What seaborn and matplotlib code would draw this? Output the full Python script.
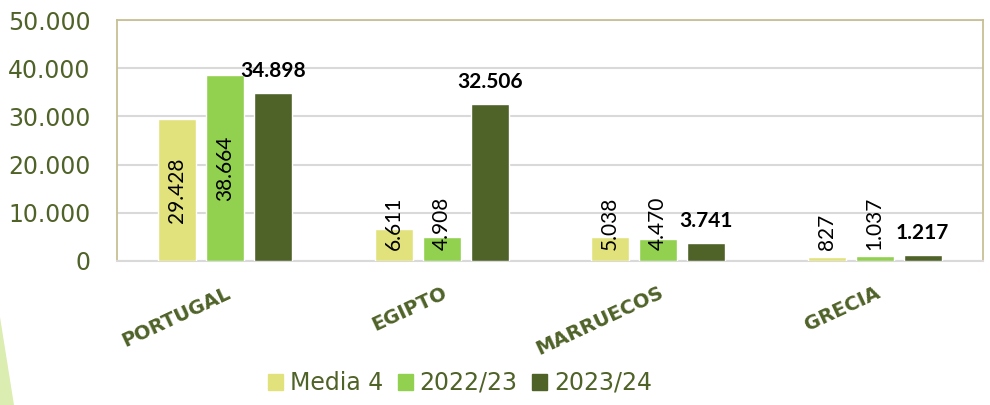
import matplotlib
matplotlib.use("Agg")
import matplotlib.pyplot as plt
import matplotlib.patches as mpatches
import seaborn as sns
import pandas as pd

# ---- data ----
countries = ["PORTUGAL", "EGIPTO", "MARRUECOS", "GRECIA"]
series_names = ["Media 4", "2022/23", "2023/24"]
media4 = [29428, 6611, 5038, 827]
y2022_23 = [38664, 4908, 4470, 1037]
y2023_24 = [34898, 32506, 3741, 1217]
yticks = [0, 10000, 20000, 30000, 40000, 50000]
ytick_labels = ["0", "10.000", "20.000", "30.000", "40.000", "50.000"]

colors = ["#e2e27d", "#92d050", "#4f6228"]
olive = "#4f6228"

def fmt(v):
    return f"{v:,}".replace(",", ".")

rows = []
for name, vals in zip(series_names, [media4, y2022_23, y2023_24]):
    for c, v in zip(countries, vals):
        rows.append({"country": c, "serie": name, "value": v})
df = pd.DataFrame(rows)

sns.set_style("white")
plt.rcParams["font.family"] = ["DejaVu Sans"]

fig = plt.figure(figsize=(9.9, 4.05), dpi=100)
ax = fig.add_axes([117 / 990, 144 / 405, 866 / 990, 241 / 405])

sns.barplot(data=df, x="country", y="value", hue="serie", order=countries,
            hue_order=series_names, palette=colors, width=0.665, gap=0.208,
            saturation=1, legend=False, ax=ax, errorbar=None, zorder=3)

ax.set_ylim(0, 50000)
ax.set_yticks(yticks)
ax.set_yticklabels(ytick_labels)
ax.set_xlabel("")
ax.set_ylabel("")
ax.grid(axis="y", color="#d9d9d9", linewidth=1.5, zorder=0)
ax.set_axisbelow(True)
ax.tick_params(axis="y", length=0, pad=19, labelsize=17, labelcolor=olive)
ax.tick_params(axis="x", length=0, pad=16)
ax.set_xticks(range(len(countries)))
ax.set_xticklabels(countries, rotation=25, ha="right", va="top",
                   rotation_mode="anchor", fontsize=14, fontweight="bold",
                   color=olive)

for side in ["top", "left", "right"]:
    ax.spines[side].set_color("#c8bf93")
    ax.spines[side].set_linewidth(1.3)
ax.spines["bottom"].set_color("#d9d9d9")
ax.spines["bottom"].set_linewidth(1.5)

# data labels
all_vals = [media4, y2022_23, y2023_24]
for i, cont in enumerate(ax.containers):
    for patch, v in zip(cont.patches, all_vals[i]):
        xc = patch.get_x() + patch.get_width() / 2
        if i < 2:
            if v > 20000:
                ax.text(xc, v / 2, fmt(v), rotation=90, ha="center", va="center",
                        fontsize=15, family="Lato", color="black", zorder=5)
            else:
                ax.text(xc, 2300, fmt(v), rotation=90, ha="center", va="bottom",
                        fontsize=15, family="Lato", color="black", zorder=5)
        else:
            ax.annotate(fmt(v), (xc, v), xytext=(0, 12), textcoords="offset pixels",
                        ha="center", va="bottom", fontsize=15, family="Lato",
                        fontweight="bold", color="black", zorder=5)

# legend
handles = [mpatches.Patch(color=c, label=n) for c, n in zip(colors, series_names)]
leg = fig.legend(handles=handles, loc="center", bbox_to_anchor=(460 / 990, 1 - 383 / 405),
                 ncol=3, frameon=False, fontsize=17, handlelength=0.64,
                 handleheight=0.64, handletextpad=0.3, columnspacing=0.6)
for t in leg.get_texts():
    t.set_color(olive)

# decorative sliver bottom-left
fig.patches.append(mpatches.Polygon([(0, 1 - 317 / 405), (0, 0), (14 / 990, 0)],
                                    closed=True, transform=fig.transFigure,
                                    facecolor="#dbedb0", edgecolor="none"))

fig.savefig("out.png", dpi=100)
